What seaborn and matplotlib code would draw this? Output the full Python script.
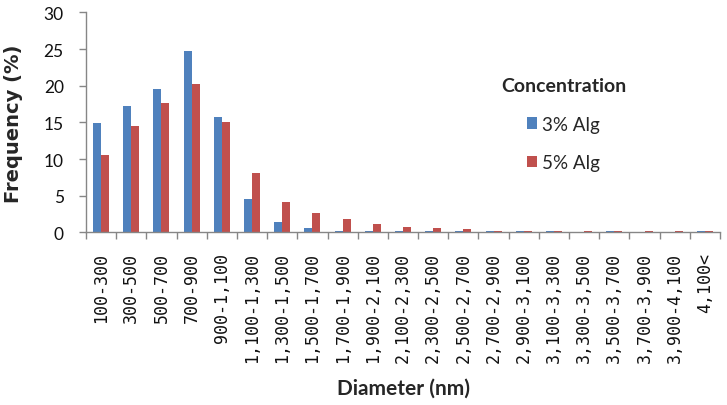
import matplotlib.pyplot as plt
import numpy as np
import pandas as pd
import seaborn as sns

# size classes (nm)
diameters = [
    "100-300", "300-500", "500-700", "700-900", "900-1,100",
    "1,100-1,300", "1,300-1,500", "1,500-1,700", "1,700-1,900", "1,900-2,100",
    "2,100-2,300", "2,300-2,500", "2,500-2,700", "2,700-2,900", "2,900-3,100",
    "3,100-3,300", "3,300-3,500", "3,500-3,700", "3,700-3,900", "3,900-4,100",
    "4,100<",
]
alg3 = [14.9, 17.3, 19.5, 24.7, 15.7, 4.5, 1.4, 0.6, 0.25, 0.25, 0.25,
        0.25, 0.2, 0.2, 0.2, 0.2, 0.0, 0.2, 0.0, 0.0, 0.2]
alg5 = [10.5, 14.5, 17.7, 20.3, 15.1, 8.1, 4.2, 2.6, 1.8, 1.2, 0.8,
        0.65, 0.45, 0.2, 0.2, 0.2, 0.2, 0.2, 0.2, 0.2, 0.2]
series_names = ["3% Alg", "5% Alg"]
colors = ["#4F81BD", "#C0504D"]

df = pd.DataFrame({
    "Diameter": diameters * 2,
    "Concentration": [series_names[0]] * len(diameters) + [series_names[1]] * len(diameters),
    "Frequency": alg3 + alg5,
})

sns.set_style("white")
plt.rcParams["font.family"] = ["Lato", "DejaVu Sans"]

axis_grey = "#868686"

fig = plt.figure(figsize=(7.27, 4.06), dpi=100)
ax = fig.add_axes([0.1183, 0.4249, 0.8721, 0.5423])
sns.barplot(data=df, x="Diameter", y="Frequency", hue="Concentration",
            palette=colors, width=0.53, saturation=1, linewidth=0,
            errorbar=None, ax=ax)

ax.set_ylim(0, 30)
ax.set_yticks(range(0, 31, 5))
ax.set_xlim(-0.5, len(diameters) - 0.5)
ax.set_xticks(np.arange(-0.5, len(diameters), 1), minor=True)

for side in ["top", "right"]:
    ax.spines[side].set_visible(False)
for side in ["left", "bottom"]:
    ax.spines[side].set_color(axis_grey)
    ax.spines[side].set_linewidth(1)

ax.tick_params(axis="y", left=True, length=5, width=1, color=axis_grey,
               pad=11, labelsize=12.5, labelcolor="#111111")
ax.tick_params(axis="x", which="major", bottom=True, length=0, pad=14)
ax.tick_params(axis="x", which="minor", bottom=True, length=5, width=1,
               color=axis_grey)
ax.set_xticks(range(len(diameters)))
ax.set_xticklabels(diameters, rotation=90, family="DejaVu Sans Mono",
                   fontsize=12, color="#111111")

ax.set_xlabel("Diameter (nm)", fontsize=15, fontweight="bold")
ax.xaxis.set_label_coords(0.5, -0.66)
ax.set_ylabel("Frequency (%)", fontsize=14, fontweight="bold",
              family="DejaVu Sans")
ax.yaxis.set_label_coords(-0.099, 0.5)

handles, labels = ax.get_legend_handles_labels()
ax.legend(handles, labels, title="Concentration", loc="center",
          bbox_to_anchor=(0.775, 0.692), bbox_transform=fig.transFigure,
          frameon=False, fontsize=13.5,
          title_fontproperties={"weight": "bold", "size": 14},
          handlelength=0.55, handleheight=0.55, handletextpad=0.3,
          labelspacing=1.15)

fig.savefig("out.png", dpi=100)
plt.close(fig)
